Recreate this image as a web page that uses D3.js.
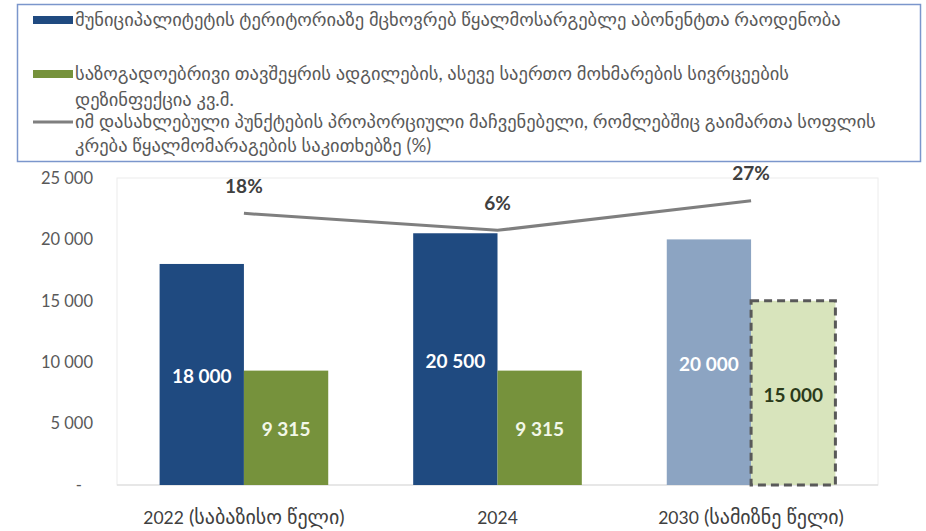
<!DOCTYPE html>
<html>
<head>
<meta charset="utf-8">
<script src="https://cdn.jsdelivr.net/npm/d3@7"></script>
<style>
  body { margin: 0; background: #fff; }
  svg { display: block; font-family: Lato, 'DejaVu Sans', sans-serif; }
</style>
</head>
<body>
<svg id="chart" width="926" height="531"></svg>
<script>
(function (d3) {
    'use strict';

    // data
    var categories = ['2022 (საბაზისო წელი)', '2024', '2030 (სამიზნე წელი)'];
    var subscribers = [18000, 20500, 20000];
    var disinfection = [9315, 9315, 15000];
    var sharePct = [18, 6, 27];
    var isTarget = [false, false, true];
    var yTicks = [0, 5000, 10000, 15000, 20000, 25000];

    var legendLabels = [
        ['მუნიციპალიტეტის ტერიტორიაზე მცხოვრებ წყალმოსარგებლე აბონენტთა რაოდენობა'],
        ['საზოგადოებრივი თავშეყრის ადგილების, ასევე საერთო მოხმარების სივრცეების',
         'დეზინფექცია კვ.მ.'],
        ['იმ დასახლებული პუნქტების პროპორციული მაჩვენებელი, რომლებშიც გაიმართა სოფლის',
         'კრება წყალმომარაგების საკითხებზე (%)']
    ];

    var colors = {
        blue: '#1f4a80', green: '#76923c',
        blueLight: '#8ca4c2', greenLight: '#d8e4bc',
        line: '#7f7f7f', text: '#404040', axis: '#595959'
    };

    var svg = d3.select('#chart'),
        margin = { top: 178, right: 48, bottom: 46, left: 117 },
        width = 926 - margin.left - margin.right,
        height = 531 - margin.top - margin.bottom;

    var rows = categories.map(function (c, i) {
        return { cat: c, a: subscribers[i], b: disinfection[i], p: sharePct[i], target: isTarget[i] };
    });

    var x0 = d3.scaleBand().domain(categories).range([0, width]).paddingInner(0.335).paddingOuter(0.168);
    var x1 = d3.scaleBand().domain(['a', 'b']).range([0, x0.bandwidth()]);
    var y = d3.scaleLinear().domain([0, 25000]).range([height, 0]);
    // hidden secondary axis for the percentage line
    var y2 = d3.scaleLinear().domain([-174, 43]).range([height, 0]);

    var fmt = function (v) { return d3.format(',')(v).replace(/,/g, ' '); };

    var g = svg.append('g')
        .attr('transform', 'translate(' + margin.left + ',' + margin.top + ')');

    // plot area frame
    g.append('rect')
        .attr('x', 0).attr('y', 0)
        .attr('width', width).attr('height', height)
        .attr('fill', 'none').attr('stroke', '#ececec');

    g.append('line')
        .attr('x1', 0).attr('x2', width)
        .attr('y1', height).attr('y2', height)
        .attr('stroke', '#d9d9d9');

    // y axis labels
    g.selectAll('.ytick')
        .data(yTicks)
        .enter().append('text')
        .attr('class', 'ytick')
        .attr('x', function (d) { return d === 0 ? -35 : -24; })
        .attr('y', function (d) { return y(d); })
        .attr('dy', '0.35em')
        .attr('text-anchor', 'end')
        .attr('fill', colors.axis)
        .style('font-size', '16.5px')
        .text(function (d) { return d === 0 ? '-' : fmt(d); });

    var group = g.selectAll('.group')
        .data(rows)
        .enter().append('g')
        .attr('class', 'group')
        .attr('transform', function (d) { return 'translate(' + x0(d.cat) + ',0)'; });

    group.append('rect')
        .attr('x', x1('a'))
        .attr('y', function (d) { return y(d.a); })
        .attr('width', x1.bandwidth())
        .attr('height', function (d) { return height - y(d.a); })
        .attr('fill', function (d) { return d.target ? colors.blueLight : colors.blue; });

    group.append('rect')
        .attr('x', x1('b'))
        .attr('y', function (d) { return y(d.b); })
        .attr('width', x1.bandwidth())
        .attr('height', function (d) { return height - y(d.b); })
        .attr('fill', function (d) { return d.target ? colors.greenLight : colors.green; })
        .attr('stroke', function (d) { return d.target ? '#595959' : 'none'; })
        .attr('stroke-width', 3)
        .attr('stroke-dasharray', '8,5');

    group.append('text')
        .attr('x', x1('a') + x1.bandwidth() / 2)
        .attr('y', function (d) { return (y(d.a) + height) / 2 + 2; })
        .attr('dy', '0.35em')
        .attr('text-anchor', 'middle')
        .attr('fill', '#fff')
        .style('font-size', '19px').style('font-weight', 'bold')
        .text(function (d) { return fmt(d.a); });

    group.append('text')
        .attr('x', x1('b') + x1.bandwidth() / 2)
        .attr('y', function (d) { return (y(d.b) + height) / 2 + 2; })
        .attr('dy', '0.35em')
        .attr('text-anchor', 'middle')
        .attr('fill', function (d) { return d.target ? '#2b3a1a' : '#f2f7e8'; })
        .style('font-size', '19px').style('font-weight', 'bold')
        .text(function (d) { return fmt(d.b); });

    // x axis labels: year in Lato, the Georgian note a bit larger
    var xlab = g.selectAll('.xlab')
        .data(categories)
        .enter().append('text')
        .attr('class', 'xlab')
        .attr('x', function (d) { return x0(d) + x0.bandwidth() / 2; })
        .attr('y', height + 33)
        .attr('dy', '0.35em')
        .attr('text-anchor', 'middle')
        .attr('fill', colors.text)
        .style('font-size', '17.5px');

    xlab.append('tspan')
        .text(function (d) { return d.split(' (')[0]; });

    xlab.filter(function (d) { return d.indexOf('(') > -1; })
        .append('tspan')
        .style('font-size', '20px')
        .text(function (d) { return ' (' + d.split(' (')[1]; });

    // percentage line
    var line = d3.line()
        .x(function (d) { return x0(d.cat) + x0.bandwidth() / 2; })
        .y(function (d) { return y2(d.p); });

    g.append('path')
        .datum(rows)
        .attr('fill', 'none')
        .attr('stroke', colors.line)
        .attr('stroke-width', 3)
        .attr('d', line);

    g.selectAll('.plab')
        .data(rows)
        .enter().append('text')
        .attr('class', 'plab')
        .attr('x', function (d) { return x0(d.cat) + x0.bandwidth() / 2; })
        .attr('y', function (d) { return y2(d.p) - 27; })
        .attr('dy', '0.35em')
        .attr('text-anchor', 'middle')
        .attr('fill', colors.text)
        .style('font-size', '19px').style('font-weight', 'bold')
        .text(function (d) { return d.p + '%'; });

    // legend
    var legend = svg.append('g').attr('class', 'legend');

    legend.append('rect')
        .attr('x', 17.5).attr('y', 4.5)
        .attr('width', 903).attr('height', 157)
        .attr('fill', '#fff')
        .attr('stroke', '#7b96cc').attr('stroke-width', 1.5);

    var legendRows = [
        { y: 20, kind: 'rect', color: colors.blue, gap: 0 },
        { y: 74, kind: 'rect', color: colors.green, gap: 26 },
        { y: 122, kind: 'line', color: colors.line, gap: 24 }
    ];

    var item = legend.selectAll('.item')
        .data(legendRows)
        .enter().append('g')
        .attr('class', 'item');

    item.each(function (d, i) {
        var el = d3.select(this);
        if (d.kind === 'rect') {
            el.append('rect')
                .attr('x', 33).attr('y', d.y - 4)
                .attr('width', 40).attr('height', 8)
                .attr('fill', d.color);
        } else {
            el.append('line')
                .attr('x1', 33).attr('x2', 73)
                .attr('y1', d.y).attr('y2', d.y)
                .attr('stroke', d.color).attr('stroke-width', 3);
        }
        el.selectAll('text')
            .data(legendLabels[i])
            .enter().append('text')
            .attr('x', 75)
            .attr('y', function (t, j) { return d.y + j * d.gap; })
            .attr('dy', '0.35em')
            .attr('fill', colors.axis)
            .style('font-size', '18.5px')
            .text(function (t) { return t; });
    });
})(window.d3);
</script>
</body>
</html>
